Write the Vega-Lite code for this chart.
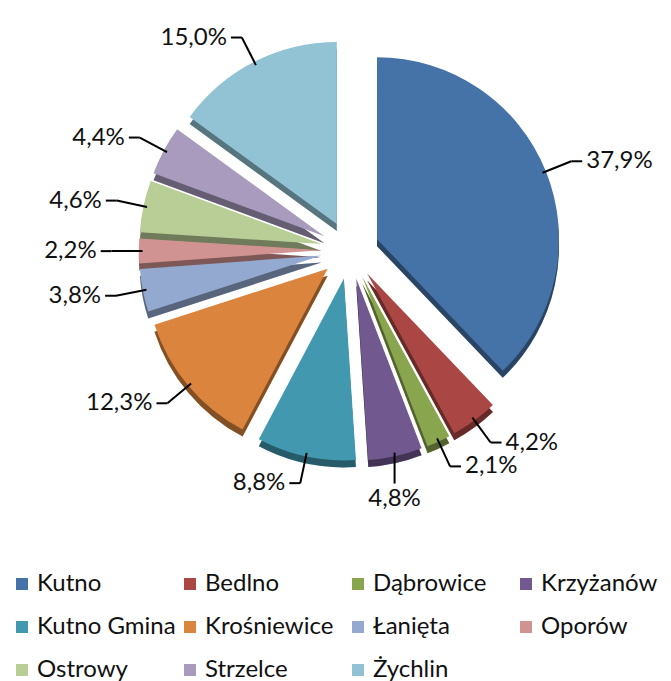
{
  "$schema": "https://vega.github.io/schema/vega-lite/v6.json",
  "width": 671,
  "height": 681,
  "autosize": {"type": "none"},
  "padding": 0,
  "background": "white",
  "config": {"view": {"stroke": null}, "font": "Lato"},
  "data": {
    "values": [
      {"name": "Kutno", "value": 37.9},
      {"name": "Bedlno", "value": 4.2},
      {"name": "Dąbrowice", "value": 2.1},
      {"name": "Krzyżanów", "value": 4.8},
      {"name": "Kutno Gmina", "value": 8.8},
      {"name": "Krośniewice", "value": 12.3},
      {"name": "Łanięta", "value": 3.8},
      {"name": "Oporów", "value": 2.2},
      {"name": "Ostrowy", "value": 4.6},
      {"name": "Strzelce", "value": 4.4},
      {"name": "Żychlin", "value": 15.0}
    ]
  },
  "transform": [
    {"window": [{"op": "sum", "field": "value", "as": "cum"}], "frame": [null, 0]},
    {"joinaggregate": [{"op": "sum", "field": "value", "as": "total"}]},
    {"calculate": "(datum.cum - datum.value) / datum.total", "as": "t0"},
    {"calculate": "datum.cum / datum.total", "as": "t1"},
    {"calculate": "PI * (datum.t0 + datum.t1)", "as": "mid"},
    {"calculate": "sin(datum.mid) > 0 && cos(datum.mid) < -0.95", "as": "bottom"},
    {"calculate": "0.16 * sin(datum.mid)", "as": "cx"},
    {"calculate": "0.16 * cos(datum.mid)", "as": "cy"},
    {"calculate": "datum.cx + 0.98 * sin(datum.mid)", "as": "p1x"},
    {"calculate": "datum.cy + 0.98 * cos(datum.mid)", "as": "p1y"},
    {"calculate": "datum.bottom ? datum.p1x : datum.cx + 1.15 * sin(datum.mid)", "as": "p2x"},
    {"calculate": "datum.bottom ? datum.p1y - 0.17 : datum.cy + 1.15 * cos(datum.mid)", "as": "p2y"},
    {"calculate": "datum.bottom ? datum.p2x : datum.p2x + (sin(datum.mid) >= 0 ? 0.06 : -0.06)", "as": "p3x"},
    {"calculate": "replace(format(datum.value, '.1f'), '.', ',') + '%'", "as": "label"}
  ],
  "encoding": {
    "x": {"field": "cx", "type": "quantitative", "scale": {"domain": [-1, 1], "range": [168, 532]}, "axis": null},
    "y": {"field": "cy", "type": "quantitative", "scale": {"domain": [-1, 1], "range": [432, 68]}, "axis": null}
  },
  "layer": [
    {
      "mark": {"type": "arc", "radius": 182, "yOffset": 7},
      "encoding": {
        "theta": {"field": "t0", "type": "quantitative", "scale": {"domain": [0, 1]}, "stack": null},
        "theta2": {"field": "t1"},
        "color": {"field": "name", "type": "nominal", "sort": null,
          "scale": {"domain": ["Kutno", "Bedlno", "Dąbrowice", "Krzyżanów", "Kutno Gmina", "Krośniewice", "Łanięta", "Oporów", "Ostrowy", "Strzelce", "Żychlin"],
                    "range": ["#4572A7", "#AA4643", "#89A54E", "#71588F", "#4198AF", "#DB843D", "#93A9CF", "#D19392", "#B9CD96", "#A99BBD", "#92C3D4"]}}
      }
    },
    {
      "mark": {"type": "arc", "radius": 182, "yOffset": 7, "fill": "#000000", "fillOpacity": 0.4},
      "encoding": {
        "theta": {"field": "t0", "type": "quantitative", "scale": {"domain": [0, 1]}, "stack": null},
        "theta2": {"field": "t1"}
      }
    },
    {
      "mark": {"type": "arc", "radius": 182},
      "encoding": {
        "theta": {"field": "t0", "type": "quantitative", "scale": {"domain": [0, 1]}, "stack": null},
        "theta2": {"field": "t1"},
        "color": {"field": "name", "type": "nominal", "sort": null,
          "legend": {"orient": "none", "legendX": 10, "legendY": 572, "direction": "horizontal", "columns": 4, "gridAlign": "all",
                     "columnPadding": 2, "rowPadding": 19, "symbolType": "square", "symbolSize": 144, "symbolStrokeWidth": 0,
                     "labelFontSize": 24, "labelFont": "Lato", "labelColor": "#111111", "labelOffset": 3, "title": null, "padding": 0, "labelLimit": 300}}
      }
    },
    {
      "mark": {"type": "rule", "color": "#000000", "strokeWidth": 2},
      "encoding": {
        "x": {"field": "p1x", "type": "quantitative"},
        "y": {"field": "p1y", "type": "quantitative"},
        "x2": {"field": "p2x"},
        "y2": {"field": "p2y"}
      }
    },
    {
      "transform": [{"filter": "!datum.bottom"}],
      "mark": {"type": "rule", "color": "#000000", "strokeWidth": 2},
      "encoding": {
        "x": {"field": "p2x", "type": "quantitative"},
        "y": {"field": "p2y", "type": "quantitative"},
        "x2": {"field": "p3x"}
      }
    },
    {
      "transform": [{"filter": "sin(datum.mid) >= 0 && !datum.bottom"}],
      "mark": {"type": "text", "align": "left", "baseline": "middle", "dx": 4, "fontSize": 24, "font": "Lato", "color": "#111111"},
      "encoding": {
        "x": {"field": "p3x", "type": "quantitative"},
        "y": {"field": "p2y", "type": "quantitative"},
        "text": {"field": "label"}
      }
    },
    {
      "transform": [{"filter": "sin(datum.mid) < 0"}],
      "mark": {"type": "text", "align": "right", "baseline": "middle", "dx": -4, "fontSize": 24, "font": "Lato", "color": "#111111"},
      "encoding": {
        "x": {"field": "p3x", "type": "quantitative"},
        "y": {"field": "p2y", "type": "quantitative"},
        "text": {"field": "label"}
      }
    },
    {
      "transform": [{"filter": "datum.bottom"}],
      "mark": {"type": "text", "align": "center", "baseline": "top", "dy": 3, "fontSize": 24, "font": "Lato", "color": "#111111"},
      "encoding": {
        "x": {"field": "p3x", "type": "quantitative"},
        "y": {"field": "p2y", "type": "quantitative"},
        "text": {"field": "label"}
      }
    }
  ]
}
